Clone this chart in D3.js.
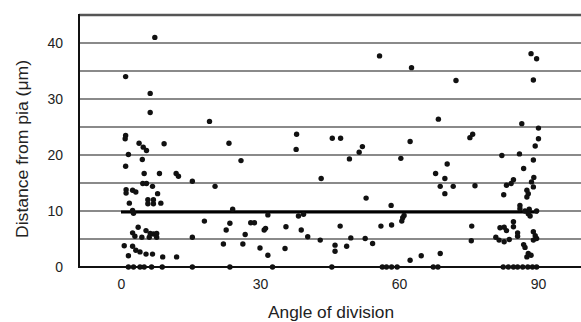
<!DOCTYPE html>
<html>
<head>
<meta charset="utf-8">
<script src="https://cdn.jsdelivr.net/npm/d3@7"></script>
<style>
  body { margin: 0; background: #fff; }
  text { font-family: "Liberation Sans", Arial, sans-serif; fill: #222; }
</style>
</head>
<body>
<div id="chart"></div>
<script>
// [angle of division (deg), distance from pia (um)]
const cellsNearHorizontal = [
  [7.3,41.0],[1.0,34.0],[6.3,31.0],[6.3,27.6],[1.0,23.5],[0.9,22.9],[3.9,22.1],[9.3,22.0],
  [4.8,21.4],[5.5,20.8],[1.6,20.1],[4.6,19.2],[1.0,18.0],[5.0,16.7],[8.3,16.7],[11.9,16.7],
  [12.4,16.2],[15.4,15.3],[1.1,13.8],[1.1,13.2],[2.5,13.7],[3.2,13.4],[4.7,14.9],[5.5,14.9],
  [6.8,14.4],[7.9,13.1],[5.8,12.0],[5.8,11.3],[7.0,12.0],[7.0,11.3],[8.6,11.4],[1.8,11.4],
  [2.5,10.1],[2.7,9.6],[3.7,7.1],[2.5,6.1],[3.0,5.5],[4.5,5.3],[5.4,6.5],[6.3,6.0],
  [7.0,5.9],[7.7,6.0],[7.7,5.3],[6.1,5.3],[15.4,5.3],[0.7,3.8],[2.5,3.7],[3.2,3.0],
  [4.1,2.7],[1.6,2.0],[5.4,2.3],[6.8,2.3],[9.0,1.8],[12.0,1.8]
];
const cellsOblique = [
  [55.8,37.7],[19.1,26.0],[37.9,23.7],[23.3,22.1],[37.8,21.0],[45.6,23.0],[47.4,23.0],[52.1,21.5],
  [51.4,20.5],[49.3,19.3],[25.9,19.0],[20.3,14.4],[43.2,15.8],[52.9,12.3],[24.1,10.3],[31.7,9.3],
  [38.3,9.1],[39.4,9.4],[18.0,8.2],[23.5,7.8],[22.7,6.6],[28.0,7.9],[28.8,7.9],[30.9,6.6],
  [31.2,6.9],[35.6,7.2],[38.9,6.6],[26.8,5.8],[40.3,5.4],[47.3,7.3],[56.1,7.3],[43.0,4.8],
  [49.6,5.2],[52.7,5.1],[54.3,4.2],[22.1,4.1],[26.3,4.1],[30.0,3.4],[35.4,3.3],[46.2,3.9],
  [46.2,2.8],[48.7,3.7],[31.7,2.1],
  [62.7,35.6],[72.3,33.3],[68.5,26.4],[62.4,22.4],[60.4,19.4],[75.9,23.7],[75.3,23.1],[70.4,18.4],
  [67.9,16.7],[69.9,15.8],[68.9,14.4],[71.7,14.4],[69.9,13.1],[76.4,14.5],[58.3,11.0],[61.1,9.2],
  [60.8,8.8],[60.6,8.2],[58.4,7.5],[75.7,7.3],[75.6,4.7],[62.4,1.2],[64.8,2.0],[68.9,2.4]
];
const cellsNearVertical = [
  [88.5,38.1],[89.7,37.2],[89.0,33.4],[86.5,25.6],[90.1,24.8],[90.1,22.9],[89.4,21.6],[82.2,19.9],
  [86.0,20.2],[89.0,19.1],[86.9,17.6],[89.1,16.0],[88.6,15.2],[89.0,14.3],[84.7,15.6],[84.2,14.9],
  [83.2,14.6],[82.6,12.9],[87.6,13.7],[87.9,13.1],[87.6,12.5],[86.1,11.0],[86.1,10.4],[87.2,10.0],
  [87.9,9.5],[88.3,9.1],[89.7,10.0],[88.1,10.3],[84.7,8.1],[84.7,7.2],[82.7,7.1],[81.8,7.0],
  [83.2,6.5],[85.6,6.1],[85.6,5.5],[80.9,5.3],[81.6,4.8],[82.7,4.5],[83.8,4.9],[89.0,6.3],
  [89.4,5.6],[89.7,5.1],[89.0,4.8],[86.9,4.0],[87.2,3.5],[87.9,2.4],[87.6,1.8],[88.5,2.1]
];
// cells sitting on the pia (distance 0)
const zeroAngles = [1.6,2.7,4.1,5.0,6.6,8.9,15.4,23.5,32.7,45.5,56.4,57.3,58.4,59.6,67.4,68.4,
  82.5,83.6,84.7,85.6,86.7,87.8,88.8,89.7];

const meanDistance = 9.8;
const xTicks = [0, 30, 60, 90];
const yTicks = [0, 10, 20, 30, 40];
const gridValues = [5, 10, 15, 20, 25, 30, 35, 40];

const width = 581, height = 322;
const plotLeft = 79, plotTop = 15, plotBottom = 267;

const x = d3.scaleLinear().domain([0, 90]).range([121, 538]);
const y = d3.scaleLinear().domain([0, 45]).range([plotBottom, plotTop]);

const svg = d3.select("#chart").append("svg")
  .attr("width", width)
  .attr("height", height);

// grid
svg.append("g")
  .selectAll("line")
  .data(gridValues)
  .join("line")
  .attr("x1", plotLeft).attr("x2", width)
  .attr("y1", d => y(d)).attr("y2", d => y(d))
  .attr("stroke", "#8a8a8a")
  .attr("stroke-width", 2);

// top frame
svg.append("line")
  .attr("x1", plotLeft).attr("x2", width)
  .attr("y1", y(45)).attr("y2", y(45))
  .attr("stroke", "#555").attr("stroke-width", 2.5);

// axes lines
svg.append("line")
  .attr("x1", plotLeft).attr("x2", plotLeft)
  .attr("y1", y(45) - 1).attr("y2", y(0) + 1)
  .attr("stroke", "#111").attr("stroke-width", 2);
svg.append("line")
  .attr("x1", plotLeft).attr("x2", width)
  .attr("y1", y(0)).attr("y2", y(0))
  .attr("stroke", "#111").attr("stroke-width", 2);

// mean line
svg.append("line")
  .attr("x1", x(0)).attr("x2", x(90))
  .attr("y1", y(meanDistance)).attr("y2", y(meanDistance))
  .attr("stroke", "#000").attr("stroke-width", 3);

// points
const allPoints = cellsNearHorizontal
  .concat(cellsOblique, cellsNearVertical, zeroAngles.map(a => [a, 0]));

svg.append("g")
  .selectAll("circle")
  .data(allPoints)
  .join("circle")
  .attr("cx", d => x(d[0]))
  .attr("cy", d => y(d[1]))
  .attr("r", 2.7)
  .attr("fill", "#111");

// tick labels
const yAxis = d3.axisLeft(y).tickValues(yTicks).tickSize(0).tickPadding(0);
svg.append("g")
  .attr("transform", `translate(${plotLeft - 16},0)`)
  .call(yAxis)
  .call(g => g.select(".domain").remove())
  .call(g => g.selectAll("text").attr("font-size", 14).attr("font-family", "Liberation Sans, Arial, sans-serif").attr("fill", "#222"));

const xAxis = d3.axisBottom(x).tickValues(xTicks).tickSize(0).tickPadding(0);
svg.append("g")
  .attr("transform", `translate(0,${plotBottom + 12})`)
  .call(xAxis)
  .call(g => g.select(".domain").remove())
  .call(g => g.selectAll("text").attr("font-size", 14).attr("font-family", "Liberation Sans, Arial, sans-serif").attr("fill", "#222"));

// titles
svg.append("text")
  .attr("x", 331).attr("y", 318)
  .attr("text-anchor", "middle")
  .attr("font-size", 16)
  .attr("textLength", 126)
  .attr("lengthAdjust", "spacingAndGlyphs")
  .text("Angle of division");

svg.append("text")
  .attr("transform", "translate(28,149) rotate(-90)")
  .attr("text-anchor", "middle")
  .attr("font-size", 16)
  .attr("textLength", 178)
  .attr("lengthAdjust", "spacingAndGlyphs")
  .text("Distance from pia (μm)");
</script>
</body>
</html>
